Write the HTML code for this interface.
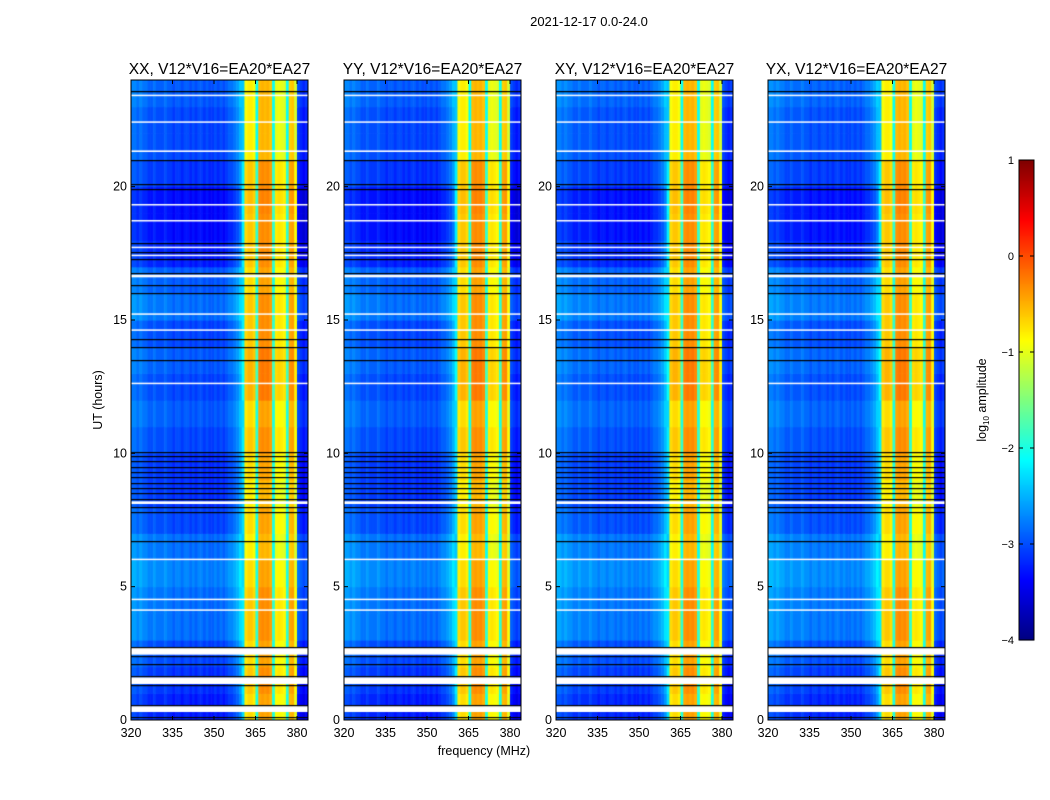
<!DOCTYPE html>
<html><head><meta charset="utf-8"><style>
body{margin:0;background:#fff;}
#wrap{position:relative;width:1050px;height:800px;overflow:hidden;font-family:"Liberation Sans",sans-serif;}
canvas,svg{position:absolute;left:0;top:0;}
</style></head><body>
<div id="wrap">
<canvas id="cv" width="1050" height="800"></canvas>
<svg id="sv" width="1050" height="800"></svg>
</div>
<script>
// ---- data ----
const panelTitles = ["XX, V12*V16=EA20*EA27","YY, V12*V16=EA20*EA27","XY, V12*V16=EA20*EA27","YX, V12*V16=EA20*EA27"];
const xTicks = [320,335,350,365,380];
const yTicks = [0,5,10,15,20];
const cbTicks = [1,0,-1,-2,-3,-4];
// log10 amplitude per 1 MHz channel, 320..383 MHz
const freqProfile = [-2.9,-2.9,-3.0,-2.9,-3.0,-3.0,-3.1,-3.1,-3.0,-3.1,-3.1,-3.1,-3.0,-3.1,-3.1,-3.2,-3.1,-3.1,-3.2,-3.1,
 -3.1,-3.2,-3.1,-3.2,-3.1,-3.1,-3.2,-3.1,-3.2,-3.2,-3.1,-3.2,-3.1,-3.2,-3.1,-3.0,-3.0,-2.9,-2.8,-2.6,
 -2.3,-0.8,-0.7,-0.7,-0.8,-2.0,-0.45,-0.4,-0.45,-0.4,-0.5,-2.0,-0.9,-0.85,-0.9,-0.95,-2.0,-0.55,-0.5,-1.0,-3.2,-3.3,-3.4,-3.3];
// offset per hour, background channels
const bgHourOffset = [-0.1,0.0,0.1,0.3,0.3,0.4,0.3,0.1,0.0,0.0,0.1,0.2,0.1,0.2,0.1,0.3,0.2,-0.1,-0.2,-0.2,0.0,0.1,0.1,0.2];
// offset per hour, band channels
const bandHourOffset = [0.0,0.1,0.0,0.1,0.1,0.0,-0.1,0.0,-0.1,0.0,0.1,0.0,0.2,0.2,0.1,0.1,0.0,0.1,0.1,0.15,0.1,-0.1,-0.1,-0.1];
// flagged (white) intervals [start,end] hours
const whiteGaps = [[0.3,0.52],[1.35,1.6],[2.45,2.7],[4.1,4.15],[4.5,4.55],[6.0,6.05],[8.1,8.2],[12.6,12.65],[14.6,14.65],[15.2,15.25],[16.6,16.7],[17.4,17.45],[17.7,17.75],[18.7,18.75],[19.3,19.35],[21.3,21.36],[22.4,22.45],[23.4,23.45]];
// black flag lines (hours)
const blackLines = [0.1,0.55,1.3,1.65,2.1,2.4,2.75,6.7,7.8,8.0,8.3,8.5,8.7,8.9,9.1,9.3,9.5,9.7,9.9,10.05,13.5,14.0,14.3,16.0,16.3,16.75,17.3,17.55,17.9,19.9,20.1,21.0,23.6];
// ---- layout ----
const lefts=[131,344,556,768], PW=177, PT=80, PH=640;
const fx=(f,L)=>L+(f-320)*(166/60);
const ty=h=>PT+PH-h*(PH/24);
function jet(v){let t=(v+4)/5;t=Math.max(0,Math.min(1,t));
 const c=x=>Math.max(0,Math.min(1,x));
 const r=c(1.5-Math.abs(4*t-3)),g=c(1.5-Math.abs(4*t-2)),b=c(1.5-Math.abs(4*t-1));
 return `rgb(${r*255|0},${g*255|0},${b*255|0})`;}
const cv=document.getElementById('cv').getContext('2d');
const NS="http://www.w3.org/2000/svg",sv=document.getElementById('sv');
function el(tag,attrs,txt){const e=document.createElementNS(NS,tag);for(const k in attrs)e.setAttribute(k,attrs[k]);if(txt!==undefined)e.textContent=txt;sv.appendChild(e);return e;}
lefts.forEach((L,p)=>{
 cv.save();cv.beginPath();cv.rect(L,PT,PW,PH);cv.clip();
 for(let h=0;h<24;h++){
  for(let i=0;i<freqProfile.length;i++){
   const band=freqProfile[i]>-2.5;
   let v=freqProfile[i]+(band?bandHourOffset[h]:bgHourOffset[h]);
   if(p>=2&&!band) v+=0.05;
   cv.fillStyle=jet(v);
   const x0=fx(320+i,L),x1=fx(321+i,L);
   cv.fillRect(x0,ty(h+1),x1-x0+0.6,ty(h)-ty(h+1)+0.6);
  }
 }
 cv.fillStyle='#fff';
 whiteGaps.forEach(g=>cv.fillRect(L,ty(g[1]),PW,Math.max(1.5,ty(g[0])-ty(g[1]))));
 cv.fillStyle='#000';
 blackLines.forEach(h=>cv.fillRect(L,Math.round(ty(h)),PW,1.2));
 cv.restore();
 const fr=el('rect',{x:L,y:PT,width:PW,height:PH,fill:'none',stroke:'#000','stroke-width':1});
 
 
 const t=el('text',{x:L+PW/2,y:74,'text-anchor':'middle','font-size':15.5},panelTitles[p]);
 
 
 xTicks.forEach(f=>{const x=fx(f,L);
  el('line',{x1:x,x2:x,y1:PT+PH,y2:PT+PH-4,stroke:'#000'});
  el('line',{x1:x,x2:x,y1:PT,y2:PT+4,stroke:'#000'});
  const tl=el('text',{x:x,y:737,'text-anchor':'middle','font-size':12.5},String(f));
  
  });
 yTicks.forEach(h=>{const y=ty(h);
  el('line',{x1:L,x2:L+4,y1:y,y2:y,stroke:'#000'});
  el('line',{x1:L+PW,x2:L+PW-4,y1:y,y2:y,stroke:'#000'});
  const tl=el('text',{x:L-4,y:y+4,'text-anchor':'end','font-size':12.5},String(h));
  
  });
});
// colorbar
const CBX=1019,CBW=15,CBT=160,CBH=480;
for(let y=0;y<CBH;y++){cv.fillStyle=jet(1-5*y/CBH);cv.fillRect(CBX,CBT+y,CBW,1.2);}
const cbf=el('rect',{x:CBX,y:CBT,width:CBW,height:CBH,fill:'none',stroke:'#000'});


cbTicks.forEach(v=>{const y=CBT+(1-v)*CBH/5;
 el('line',{x1:CBX,x2:CBX+4,y1:y,y2:y,stroke:'#000'});
 el('line',{x1:CBX+CBW,x2:CBX+CBW-4,y1:y,y2:y,stroke:'#000'});
 const tl=el('text',{x:CBX-5,y:y+4,'text-anchor':'end','font-size':11},v<0?'\u2212'+(-v):String(v));
 
 });
</script>
<svg width="1050" height="800" style="position:absolute;left:0;top:0">
<text x="589" y="26" text-anchor="middle" font-size="13" font-family="Liberation Sans">2021-12-17 0.0-24.0</text>
<text x="484" y="755" text-anchor="middle" font-size="12.5" font-family="Liberation Sans">frequency (MHz)</text>
<text transform="translate(102,400) rotate(-90)" text-anchor="middle" font-size="12.5" font-family="Liberation Sans">UT (hours)</text>
<text transform="translate(986,400) rotate(-90)" text-anchor="middle" font-size="12.5" font-family="Liberation Sans">log<tspan font-size="8" dy="3">10</tspan><tspan dy="-3"> amplitude</tspan></text>
</svg>
</body></html>
